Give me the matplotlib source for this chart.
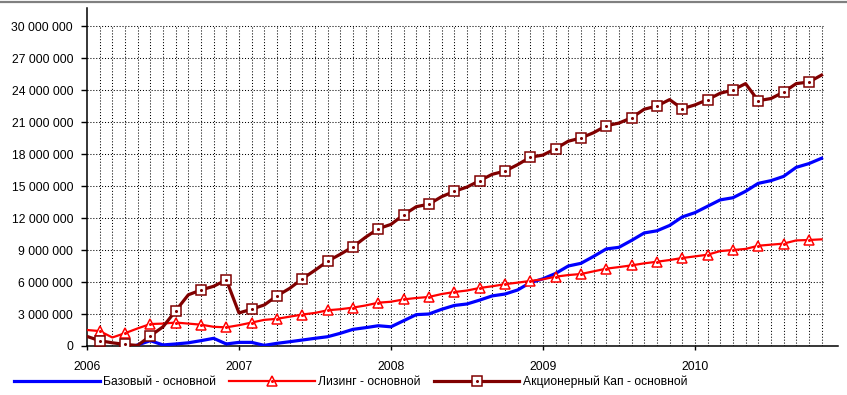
import numpy as np
import matplotlib
matplotlib.use("Agg")
import matplotlib.pyplot as plt

plt.rcParams["font.family"] = ["Liberation Sans", "DejaVu Sans"]

# ── Data (millions, monthly from Jan 2006) ───────────────────────────────────
months = list(range(59))

bazovy = [np.nan, np.nan, np.nan, np.nan, 0.1, 0.5, 0.1, 0.19, 0.3, 0.5,
          0.72, 0.19, 0.34, 0.34, 0.06, 0.25, 0.4, 0.56, 0.72, 0.87,
          1.19, 1.56, 1.72, 1.9, 1.8, 2.37, 2.94, 3.0, 3.44, 3.8,
          3.94, 4.3, 4.7, 4.87, 5.25, 5.94, 6.3, 6.8, 7.5, 7.75,
          8.4, 9.1, 9.25, 9.9, 10.6, 10.8, 11.3, 12.1, 12.5, 13.1,
          13.7, 13.9, 14.5, 15.25, 15.5, 15.9, 16.75, 17.1, 17.6]

lizing = [1.5, 1.4, 0.8, 1.2, 1.65, 2.06, 2.1, 2.2, 2.1, 2.0,
          1.8, 1.75, 1.95, 2.2, 2.45, 2.55, 2.75, 2.95, 3.1, 3.35,
          3.45, 3.6, 3.8, 4.06, 4.15, 4.37, 4.5, 4.6, 4.87, 5.06,
          5.2, 5.44, 5.6, 5.8, 5.94, 6.1, 6.25, 6.5, 6.65, 6.75,
          7.0, 7.25, 7.4, 7.56, 7.75, 7.9, 8.06, 8.25, 8.4, 8.56,
          8.9, 9.0, 9.1, 9.4, 9.5, 9.6, 9.9, 9.94, 10.0]

akc_kap = [0.9, 0.5, 0.3, 0.15, 0.05, 0.95, 1.8, 3.3, 4.8, 5.25,
           5.6, 6.2, 3.1, 3.45, 3.85, 4.7, 5.4, 6.3, 7.1, 7.95,
           8.6, 9.3, 10.2, 11.0, 11.4, 12.3, 13.06, 13.3, 14.0, 14.5,
           14.9, 15.5, 16.1, 16.4, 17.0, 17.7, 17.9, 18.5, 19.2, 19.5,
           20.0, 20.65, 20.9, 21.4, 22.2, 22.5, 23.1, 22.25, 22.6, 23.1,
           23.7, 24.0, 24.6, 23.0, 23.2, 23.8, 24.6, 24.75, 25.4]

y_ticks = [0, 3, 6, 9, 12, 15, 18, 21, 24, 27, 30]
y_labels = ["0", "3 000 000", "6 000 000", "9 000 000", "12 000 000",
            "15 000 000", "18 000 000", "21 000 000", "24 000 000",
            "27 000 000", "30 000 000"]
x_ticks = [0, 12, 24, 36, 48]
x_labels = ["2006", "2007", "2008", "2009", "2010"]

names = ["Базовый - основной", "Лизинг - основной", "Акционерный Кап - основной"]

# ── Figure ───────────────────────────────────────────────────────────────────
fig = plt.figure(figsize=(8.47, 3.95), dpi=100)
ax = fig.add_axes([87 / 847, 49 / 395, 751 / 847, 338 / 395])
ax.set_xlim(0, 59.3)
ax.set_ylim(0, 31.69)

# dotted grid, limited to the 30M / last-month box
grid_kw = dict(color="black", linewidth=0.75, linestyle=(0, (1, 1.8)), zorder=1)
for yv in y_ticks[1:]:
    ax.plot([0, 58.2], [yv, yv], **grid_kw)
for m in range(1, 59):
    ax.plot([m, m], [0, 30], **grid_kw)

mk = (1, 2)
ax.plot(months, bazovy, color="#0000FF", lw=2.3, zorder=3)
l_red, = ax.plot(months, lizing, color="#FF0000", lw=1.6, zorder=4,
                 marker="^", markevery=mk, ms=7.5, mfc="white", mec="#FF0000", mew=1.1)
d_red, = ax.plot(months, lizing, ls="none", marker="o", ms=1.2, color="#FF0000",
                 markevery=mk, zorder=5)
l_dk, = ax.plot(months, akc_kap, color="#800000", lw=2.3, zorder=6,
                marker="s", markevery=mk, ms=6.5, mfc="white", mec="#800000", mew=1.1)
d_dk, = ax.plot(months, akc_kap, ls="none", marker="o", ms=1.2, color="#800000",
                markevery=mk, zorder=7)
l_blue, = ax.plot([], [], color="#0000FF", lw=2.3)

for s in ["top", "right"]:
    ax.spines[s].set_visible(False)
ax.spines["left"].set_linewidth(1.1)
ax.spines["bottom"].set_linewidth(1.1)

ax.set_yticks(y_ticks)
ax.set_yticklabels(y_labels, fontsize=8.7)
ax.set_xticks(x_ticks)
ax.set_xticklabels(x_labels, fontsize=8.7)
ax.tick_params(axis="y", length=4, width=1, pad=6)
ax.tick_params(axis="x", length=3, width=1, pad=8)

fig.legend([l_blue, (l_red, d_red), (l_dk, d_dk)], names,
           loc="center left", bbox_to_anchor=(14 / 847, 13 / 395), ncol=3,
           frameon=False, fontsize=8.7, handlelength=7.1, handletextpad=0.25,
           columnspacing=1.1, borderpad=0, borderaxespad=0, numpoints=1)

# gray frame line at the very top
fig.add_artist(plt.Line2D([0, 1], [0.996, 0.996], color="#808080", lw=1.6,
                          transform=fig.transFigure))

fig.savefig("out.png", dpi=100)
